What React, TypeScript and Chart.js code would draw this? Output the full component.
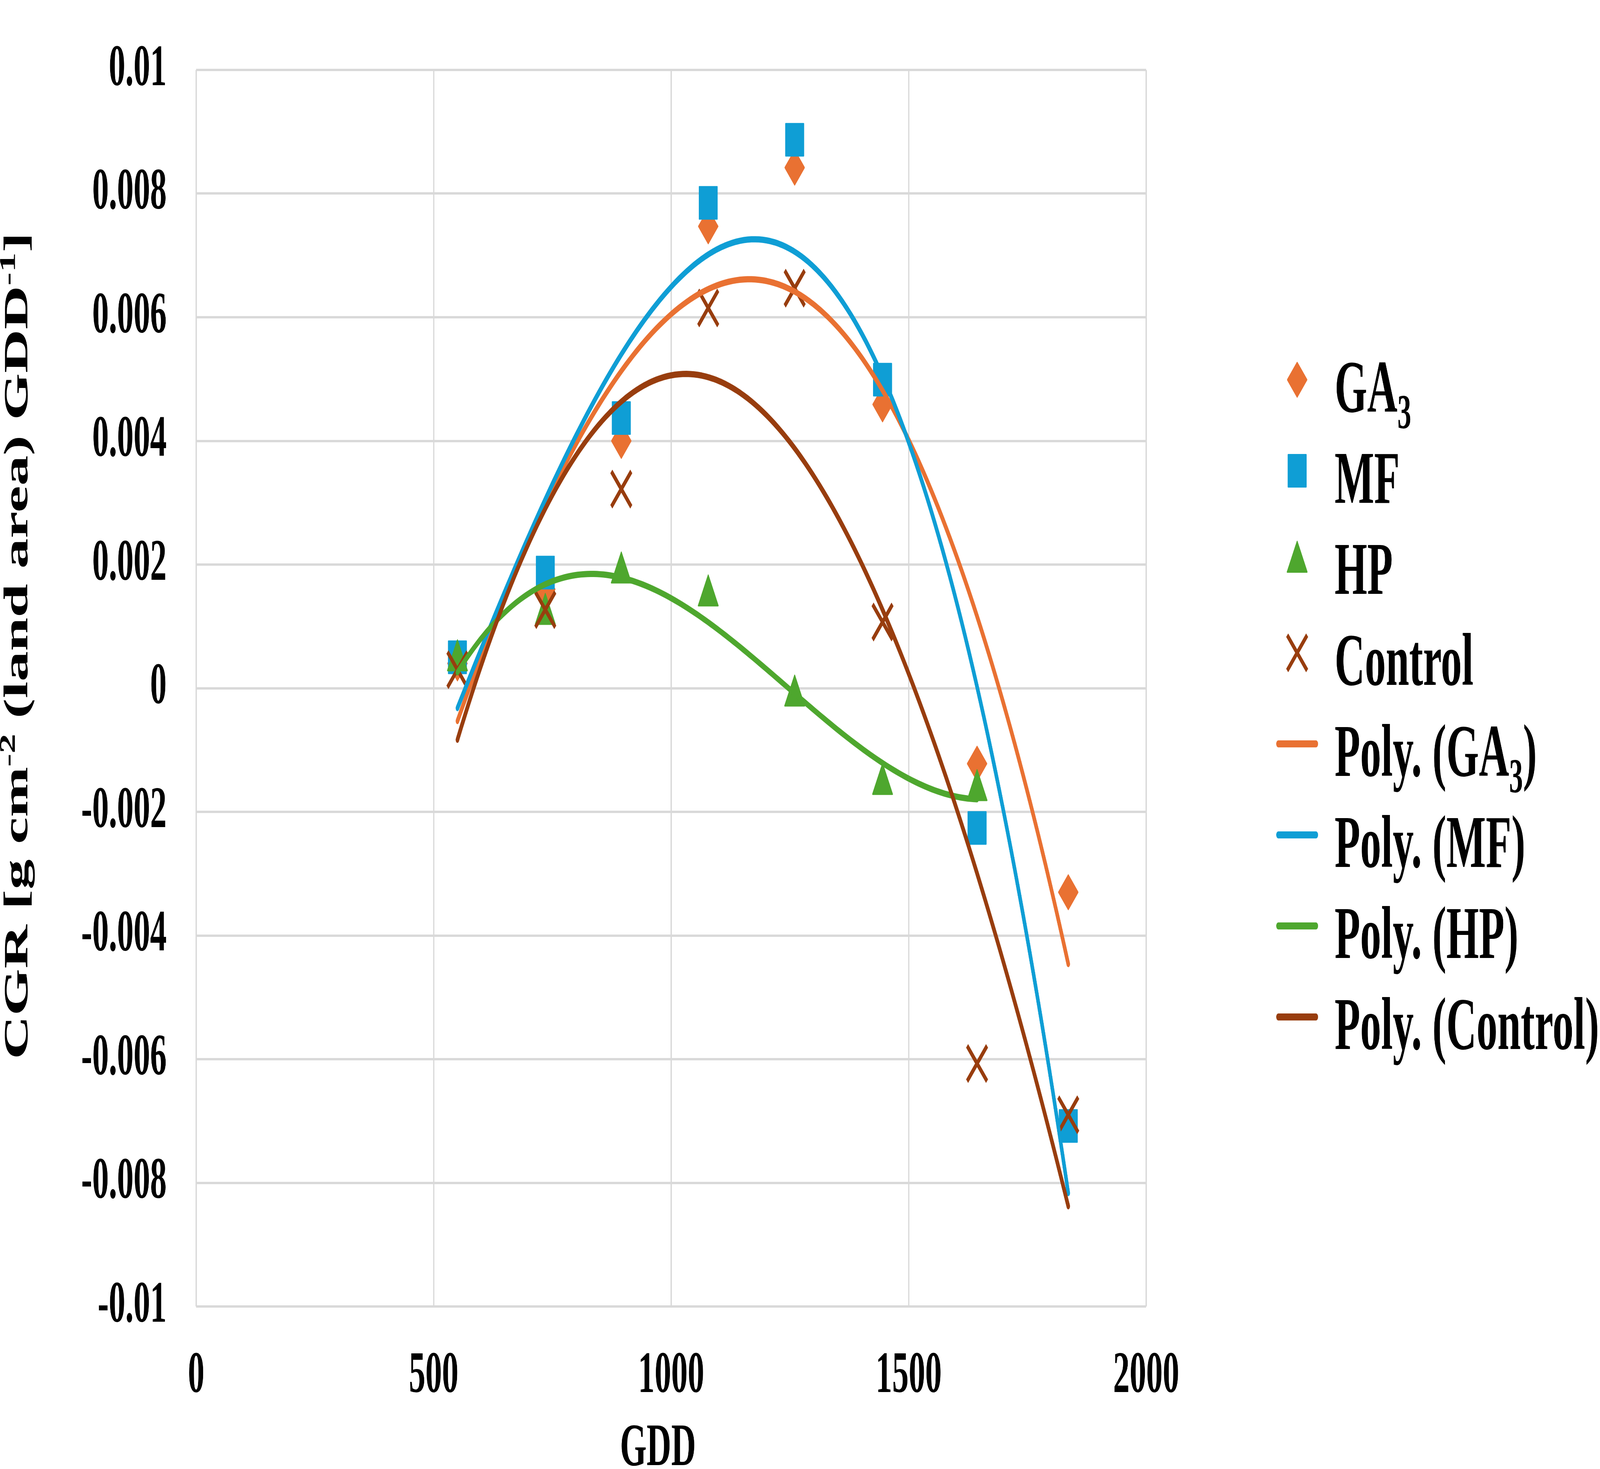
import { useEffect, useRef, useState } from "react";
import { Chart, registerables } from "chart.js";
import { drawPoint } from "chart.js/helpers";

Chart.register(...registerables);

// growing degree days at each sampling date
const GDD = [550, 735, 895, 1078, 1260, 1445, 1644, 1836];

// crop growth rate per treatment
const GA3 = [0.0004, 0.0016, 0.004, 0.00747, 0.00842, 0.00459, -0.00122, -0.0033];
const MF = [0.0005, 0.00187, 0.00437, 0.00785, 0.00887, 0.00499, -0.00226, -0.00708];
const HP = [0.00045, 0.0012, 0.00187, 0.0015, -0.00012, -0.00155, -0.00165];
const CONTROL = [0.0003, 0.00127, 0.00322, 0.00615, 0.00647, 0.00107, -0.00607, -0.0069];

const SERIES = ["GA3", "MF", "HP", "Control"];
const VALUES = [GA3, MF, HP, CONTROL];

const X_TICKS = [0, 500, 1000, 1500, 2000];
const Y_TICKS = [-0.01, -0.008, -0.006, -0.004, -0.002, 0, 0.002, 0.004, 0.006, 0.008, 0.01];

const X_TITLE = "GDD";
const Y_TITLE = [
  { t: "CGR [g cm" },
  { t: "-2", sup: true },
  { t: " (land area) GDD" },
  { t: "-1", sup: true },
  { t: "]" },
];

const TREND_ORDER = 3;

const COLORS = ["#E97132", "#0F9ED5", "#4EA72E", "#983D0E"];
const MARKERS = ["rectRot", "rect", "triangle", "crossRot"];
const MARKER_R = [44, 58, 52, 64];
const MARKER_BW = [4, 4, 4, 13];

// drawing size of the chart; the canvas is then fitted to the window
const W = 7259;
const H = 3760;
const FONT = "'Liberation Serif', 'Times New Roman', serif";
const GRID = "#D9D9D9";

// least squares polynomial, like an Excel trendline
function polyFit(xs: number[], ys: number[], order: number) {
  const n = order + 1;
  const A = Array.from({ length: n }, () => new Array(n + 1).fill(0));
  ys.forEach((y, k) => {
    const t = xs[k] / 1000;
    for (let i = 0; i < n; i++) {
      for (let j = 0; j < n; j++) A[i][j] += Math.pow(t, i + j);
      A[i][n] += y * Math.pow(t, i);
    }
  });
  for (let c = 0; c < n; c++) {
    let p = c;
    for (let r = c + 1; r < n; r++) if (Math.abs(A[r][c]) > Math.abs(A[p][c])) p = r;
    [A[c], A[p]] = [A[p], A[c]];
    for (let r = 0; r < n; r++) {
      if (r === c) continue;
      const f = A[r][c] / A[c][c];
      for (let k = c; k <= n; k++) A[r][k] -= f * A[c][k];
    }
  }
  const coef = A.map((row, i) => row[n] / row[i]);
  return (x: number) => coef.reduce((s, a, i) => s + a * Math.pow(x / 1000, i), 0);
}

function trendPoints(ys: number[]) {
  const xs = GDD.slice(0, ys.length);
  const f = polyFit(xs, ys, TREND_ORDER);
  const x0 = xs[0];
  const x1 = xs[xs.length - 1];
  const steps = 160;
  const pts = [];
  for (let i = 0; i <= steps; i++) {
    const x = x0 + ((x1 - x0) * i) / steps;
    pts.push({ x, y: f(x) });
  }
  return pts;
}

type Seg = { t: string; sup?: boolean; sub?: boolean };

// "GA3" -> GA + subscript 3
function withSubscripts(text: string): Seg[] {
  const out: Seg[] = [];
  const re = /([A-Z])(\d+)/g;
  let last = 0;
  let m;
  while ((m = re.exec(text))) {
    out.push({ t: text.slice(last, m.index + 1) });
    out.push({ t: m[2], sub: true });
    last = m.index + m[0].length;
  }
  out.push({ t: text.slice(last) });
  return out.filter((s) => s.t.length);
}

function drawRich(c: CanvasRenderingContext2D, segs: Seg[], x: number, y: number, size: number, measureOnly = false) {
  let cx = x;
  for (const s of segs) {
    const small = s.sup || s.sub;
    c.font = `bold ${small ? Math.round(size * 0.66) : size}px ${FONT}`;
    const dy = s.sup ? -size * 0.36 : s.sub ? size * 0.22 : 0;
    if (!measureOnly) c.fillText(s.t, cx, y + dy);
    cx += c.measureText(s.t).width;
  }
  return cx - x;
}

// rounded marker corners, as Excel draws them
const roundJoins = {
  id: "roundJoins",
  beforeDatasetsDraw(chart: Chart) {
    chart.ctx.lineJoin = "round";
  },
};

const sideLegend = {
  id: "sideLegend",
  afterDraw(chart: Chart) {
    const c = chart.ctx;
    const size = 190;
    const markX = 5885;
    const textX = 6055;
    const row0 = 972;
    const rowH = 233;
    c.save();
    c.textAlign = "left";
    c.textBaseline = "alphabetic";
    c.lineJoin = "round";
    const items = [
      ...SERIES.map((s, i) => ({ label: s, i, line: false })),
      ...SERIES.map((s, i) => ({ label: `Poly. (${s})`, i, line: true })),
    ];
    items.forEach((it, n) => {
      const y = row0 + n * rowH;
      c.fillStyle = COLORS[it.i];
      c.strokeStyle = COLORS[it.i];
      if (it.line) {
        c.lineWidth = 18;
        c.lineCap = "round";
        c.beginPath();
        c.moveTo(markX - 86, y);
        c.lineTo(markX + 86, y);
        c.stroke();
      } else {
        c.lineWidth = MARKER_BW[it.i];
        c.lineCap = "butt";
        drawPoint(
          c,
          { pointStyle: MARKERS[it.i] as any, radius: MARKER_R[it.i], rotation: 0, borderWidth: MARKER_BW[it.i] },
          markX,
          y
        );
      }
      c.fillStyle = "#000";
      drawRich(c, withSubscripts(it.label), textX, y + 82, size);
    });
    c.restore();
  },
};

const axisTitles = {
  id: "axisTitles",
  afterDraw(chart: Chart) {
    const c = chart.ctx;
    const size = 155;
    c.save();
    c.fillStyle = "#000";
    c.textAlign = "left";
    c.textBaseline = "alphabetic";

    // x title
    const segX: Seg[] = [{ t: X_TITLE }];
    const wx = drawRich(c, segX, 0, 0, size, true);
    drawRich(c, segX, 2985 - wx / 2, 3750, size);

    // y title, rotated
    const wy = drawRich(c, Y_TITLE, 0, 0, size, true);
    c.translate(124, 1653);
    c.rotate(-Math.PI / 2);
    drawRich(c, Y_TITLE, -wy / 2, 0, size);
    c.restore();
  },
};

export default function App() {
  const canvasRef = useRef<HTMLCanvasElement>(null);
  const [view] = useState(() => ({ w: window.innerWidth || W, h: window.innerHeight || H }));

  useEffect(() => {
    document.body.style.margin = "0";
    document.body.style.overflow = "hidden";
    const ctx = canvasRef.current?.getContext("2d");
    if (!ctx) return;

    const points = VALUES.map((vals, i) => ({
      label: SERIES[i],
      data: vals.map((y, n) => ({ x: GDD[n], y })),
      showLine: false,
      pointStyle: MARKERS[i],
      pointRadius: MARKER_R[i],
      pointBorderWidth: MARKER_BW[i],
      backgroundColor: COLORS[i],
      borderColor: COLORS[i],
      order: 8 - i,
    }));
    const trends = VALUES.map((vals, i) => ({
      label: `Poly. (${SERIES[i]})`,
      data: trendPoints(vals),
      showLine: true,
      pointRadius: 0,
      borderWidth: 16,
      borderColor: COLORS[i],
      backgroundColor: COLORS[i],
      borderCapStyle: "round",
      borderJoinStyle: "round",
      fill: false,
      order: 4 - i,
    }));

    const chart = new Chart(ctx, {
      type: "scatter",
      data: { datasets: [...points, ...trends] as any },
      options: {
        responsive: false,
        animation: false,
        devicePixelRatio: 1,
        events: [],
        layout: { padding: { top: 55, right: W - 5200, left: 0, bottom: 0 } },
        plugins: { legend: { display: false }, tooltip: { enabled: false } },
        scales: {
          x: {
            type: "linear",
            min: X_TICKS[0],
            max: X_TICKS[X_TICKS.length - 1],
            afterBuildTicks: (s: any) => {
              s.ticks = X_TICKS.map((v) => ({ value: v }));
            },
            afterFit: (s: any) => {
              s.height = H - 3344;
            },
            grid: { color: GRID, lineWidth: 6, drawTicks: false },
            border: { display: false },
            ticks: {
              padding: 90,
              color: "#000",
              font: { family: FONT, size: 150, weight: "bold", lineHeight: 1.2 },
              callback: (v: any) => String(v),
            },
          },
          y: {
            type: "linear",
            min: Y_TICKS[0],
            max: Y_TICKS[Y_TICKS.length - 1],
            afterBuildTicks: (s: any) => {
              s.ticks = Y_TICKS.map((v) => ({ value: v }));
            },
            afterFit: (s: any) => {
              s.width = 890;
            },
            grid: { color: GRID, lineWidth: 6, drawTicks: false },
            border: { display: false },
            ticks: {
              padding: 134,
              color: "#000",
              font: { family: FONT, size: 150, weight: "bold", lineHeight: 0.6 },
              callback: (v: any) => String(+Number(v).toFixed(4)),
            },
          },
        },
      },
      plugins: [roundJoins, sideLegend, axisTitles],
    });

    return () => chart.destroy();
  }, []);

  // fit the 7259x3760 drawing to the window the page is shown in
  const sx = view.w / W;
  const sy = view.h / H;

  return (
    <div style={{ position: "relative", width: view.w, height: view.h, overflow: "hidden", background: "#fff" }}>
      <canvas
        ref={canvasRef}
        width={W}
        height={H}
        style={{ display: "block", position: "absolute", left: 0, top: 0, transform: `scale(${sx}, ${sy})`, transformOrigin: "0 0" }}
      />
    </div>
  );
}
